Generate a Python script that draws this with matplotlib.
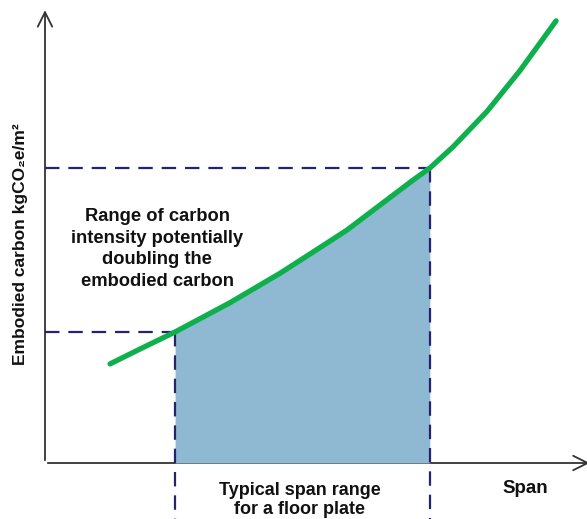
import matplotlib.pyplot as plt
import numpy as np

# data (arbitrary units)
span = [1.20, 1.75, 2.40, 3.41, 4.34, 4.95, 5.57, 6.18, 6.79, 7.10, 7.53, 8.16, 8.76, 9.43]
carbon = [2.14, 2.46, 2.83, 3.46, 4.10, 4.56, 5.03, 5.57, 6.11, 6.37, 6.83, 7.60, 8.47, 9.55]
span_lo, span_hi = 2.40, 7.10

W, H = 587, 519
fig = plt.figure(figsize=(W / 100, H / 100), dpi=100)
# origin of the axes sits at pixel (45, 463)
ax = fig.add_axes([45 / W, 56 / H, 542 / W, 463 / H])
ax.set_xlim(0, 10)
ax.set_ylim(0, 10)
ax.axis('off')

fonts = ['Liberation Sans', 'DejaVu Sans']
navy = '#24246e'
axcol = '#333333'
txt = '#111111'

x = np.array(span)
y = np.array(carbon)

# shaded area under the curve for the typical span range
m = (x >= span_lo) & (x <= span_hi)
ax.fill_between(x[m], 0, y[m], color='#8fb8d3', lw=0, zorder=2)

# axes with open arrow heads
arr = dict(arrowstyle='->', color=axcol, lw=1.3, mutation_scale=26)
ax.annotate('', xy=(0, 9.84), xytext=(0, 0), annotation_clip=False, arrowprops=arr, zorder=1)
ax.annotate('', xy=(10.1, 0), xytext=(0, 0), annotation_clip=False, arrowprops=arr, zorder=1)

# dashed guide lines
y_lo = np.interp(span_lo, x, y)
y_hi = np.interp(span_hi, x, y)
kw = dict(color=navy, lw=1.6, dashes=(6.5, 4), clip_on=False, zorder=3)
ax.plot([0, span_lo], [y_lo, y_lo], **kw)
ax.plot([0, span_hi], [y_hi, y_hi], **kw)
ax.plot([span_lo, span_lo], [y_lo, -1.22], **kw)
ax.plot([span_hi, span_hi], [y_hi, -1.22], **kw)

# the curve
ax.plot(x, y, color='#0db04b', lw=3.8, solid_capstyle='round', solid_joinstyle='round', zorder=4)

# texts
ax.text(2.07, 4.62, 'Range of carbon\nintensity potentially\ndoubling the\nembodied carbon',
        ha='center', va='center', fontsize=13.2, fontweight='bold', family=fonts,
        linespacing=1.37, color=txt)
ax.text(8.86, -0.56, 'Span', ha='center', va='center', fontsize=13.5, fontweight='bold',
        family=fonts, color=txt, clip_on=False)
ax.text(4.70, -0.80, 'Typical span range\nfor a floor plate', ha='center', va='center',
        fontsize=13, fontweight='bold', family=fonts, linespacing=1.22, color=txt,
        clip_on=False)
ax.text(-0.46, 4.73, 'Embodied carbon kgCO\u2082e/m\u00b2', ha='center', va='center',
        rotation=90, fontsize=12.5, fontweight='bold', family=fonts, color=txt,
        clip_on=False)

fig.savefig('out.png', dpi=100)
